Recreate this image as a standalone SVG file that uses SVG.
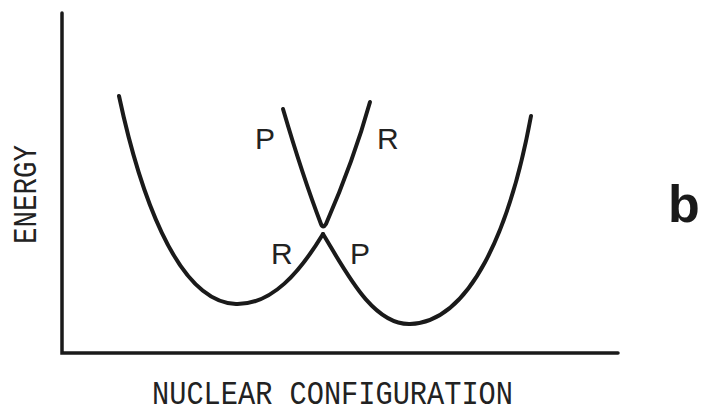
<svg xmlns="http://www.w3.org/2000/svg" width="701" height="414" viewBox="0 0 701 414">
<style>
.ln{fill:none;stroke:#1a1a1a;stroke-width:4;stroke-linecap:round;stroke-linejoin:round}
.ax{fill:none;stroke:#1a1a1a;stroke-width:3.5;stroke-linecap:round}
.lbl{font-family:"Liberation Sans",Arial,sans-serif;font-size:30px;fill:#222}
.axt{font-family:"Liberation Mono","DejaVu Sans Mono",monospace;font-size:34px;fill:#222}
.big{font-family:"Liberation Sans",Arial,sans-serif;font-size:52px;font-weight:bold;fill:#1a1a1a}
</style>
<rect width="701" height="414" fill="#fff"/>
<g id="axes">
<path class="ax" d="M62,13 L62,353 L618,353"/>
</g>
<g id="curves">
<path id="left-well" class="ln" d="M119,96 C138,185 175,302 236,304 C272,305 300,272 323,234"/>
<path id="right-well" class="ln" d="M323,234 C345,270 372,325 410,324 C470,322 510,230 531,116"/>
<path id="upper-v" class="ln" d="M283,109 C295,150 308,190 321,224 Q323,229 326,224 C343,185 358,145 370,102"/>
</g>
<g id="labels">
<text class="lbl" x="255" y="149">P</text>
<text class="lbl" x="377" y="149">R</text>
<text class="lbl" x="271" y="264">R</text>
<text class="lbl" x="350" y="264">P</text>
<text class="axt" x="152" y="404" textLength="361" lengthAdjust="spacingAndGlyphs">NUCLEAR CONFIGURATION</text>
<text class="axt" transform="translate(36,244) rotate(-90)" font-size="37" textLength="99" lengthAdjust="spacingAndGlyphs">ENERGY</text>
<text class="big" x="668" y="222">b</text>
</g>
</svg>
